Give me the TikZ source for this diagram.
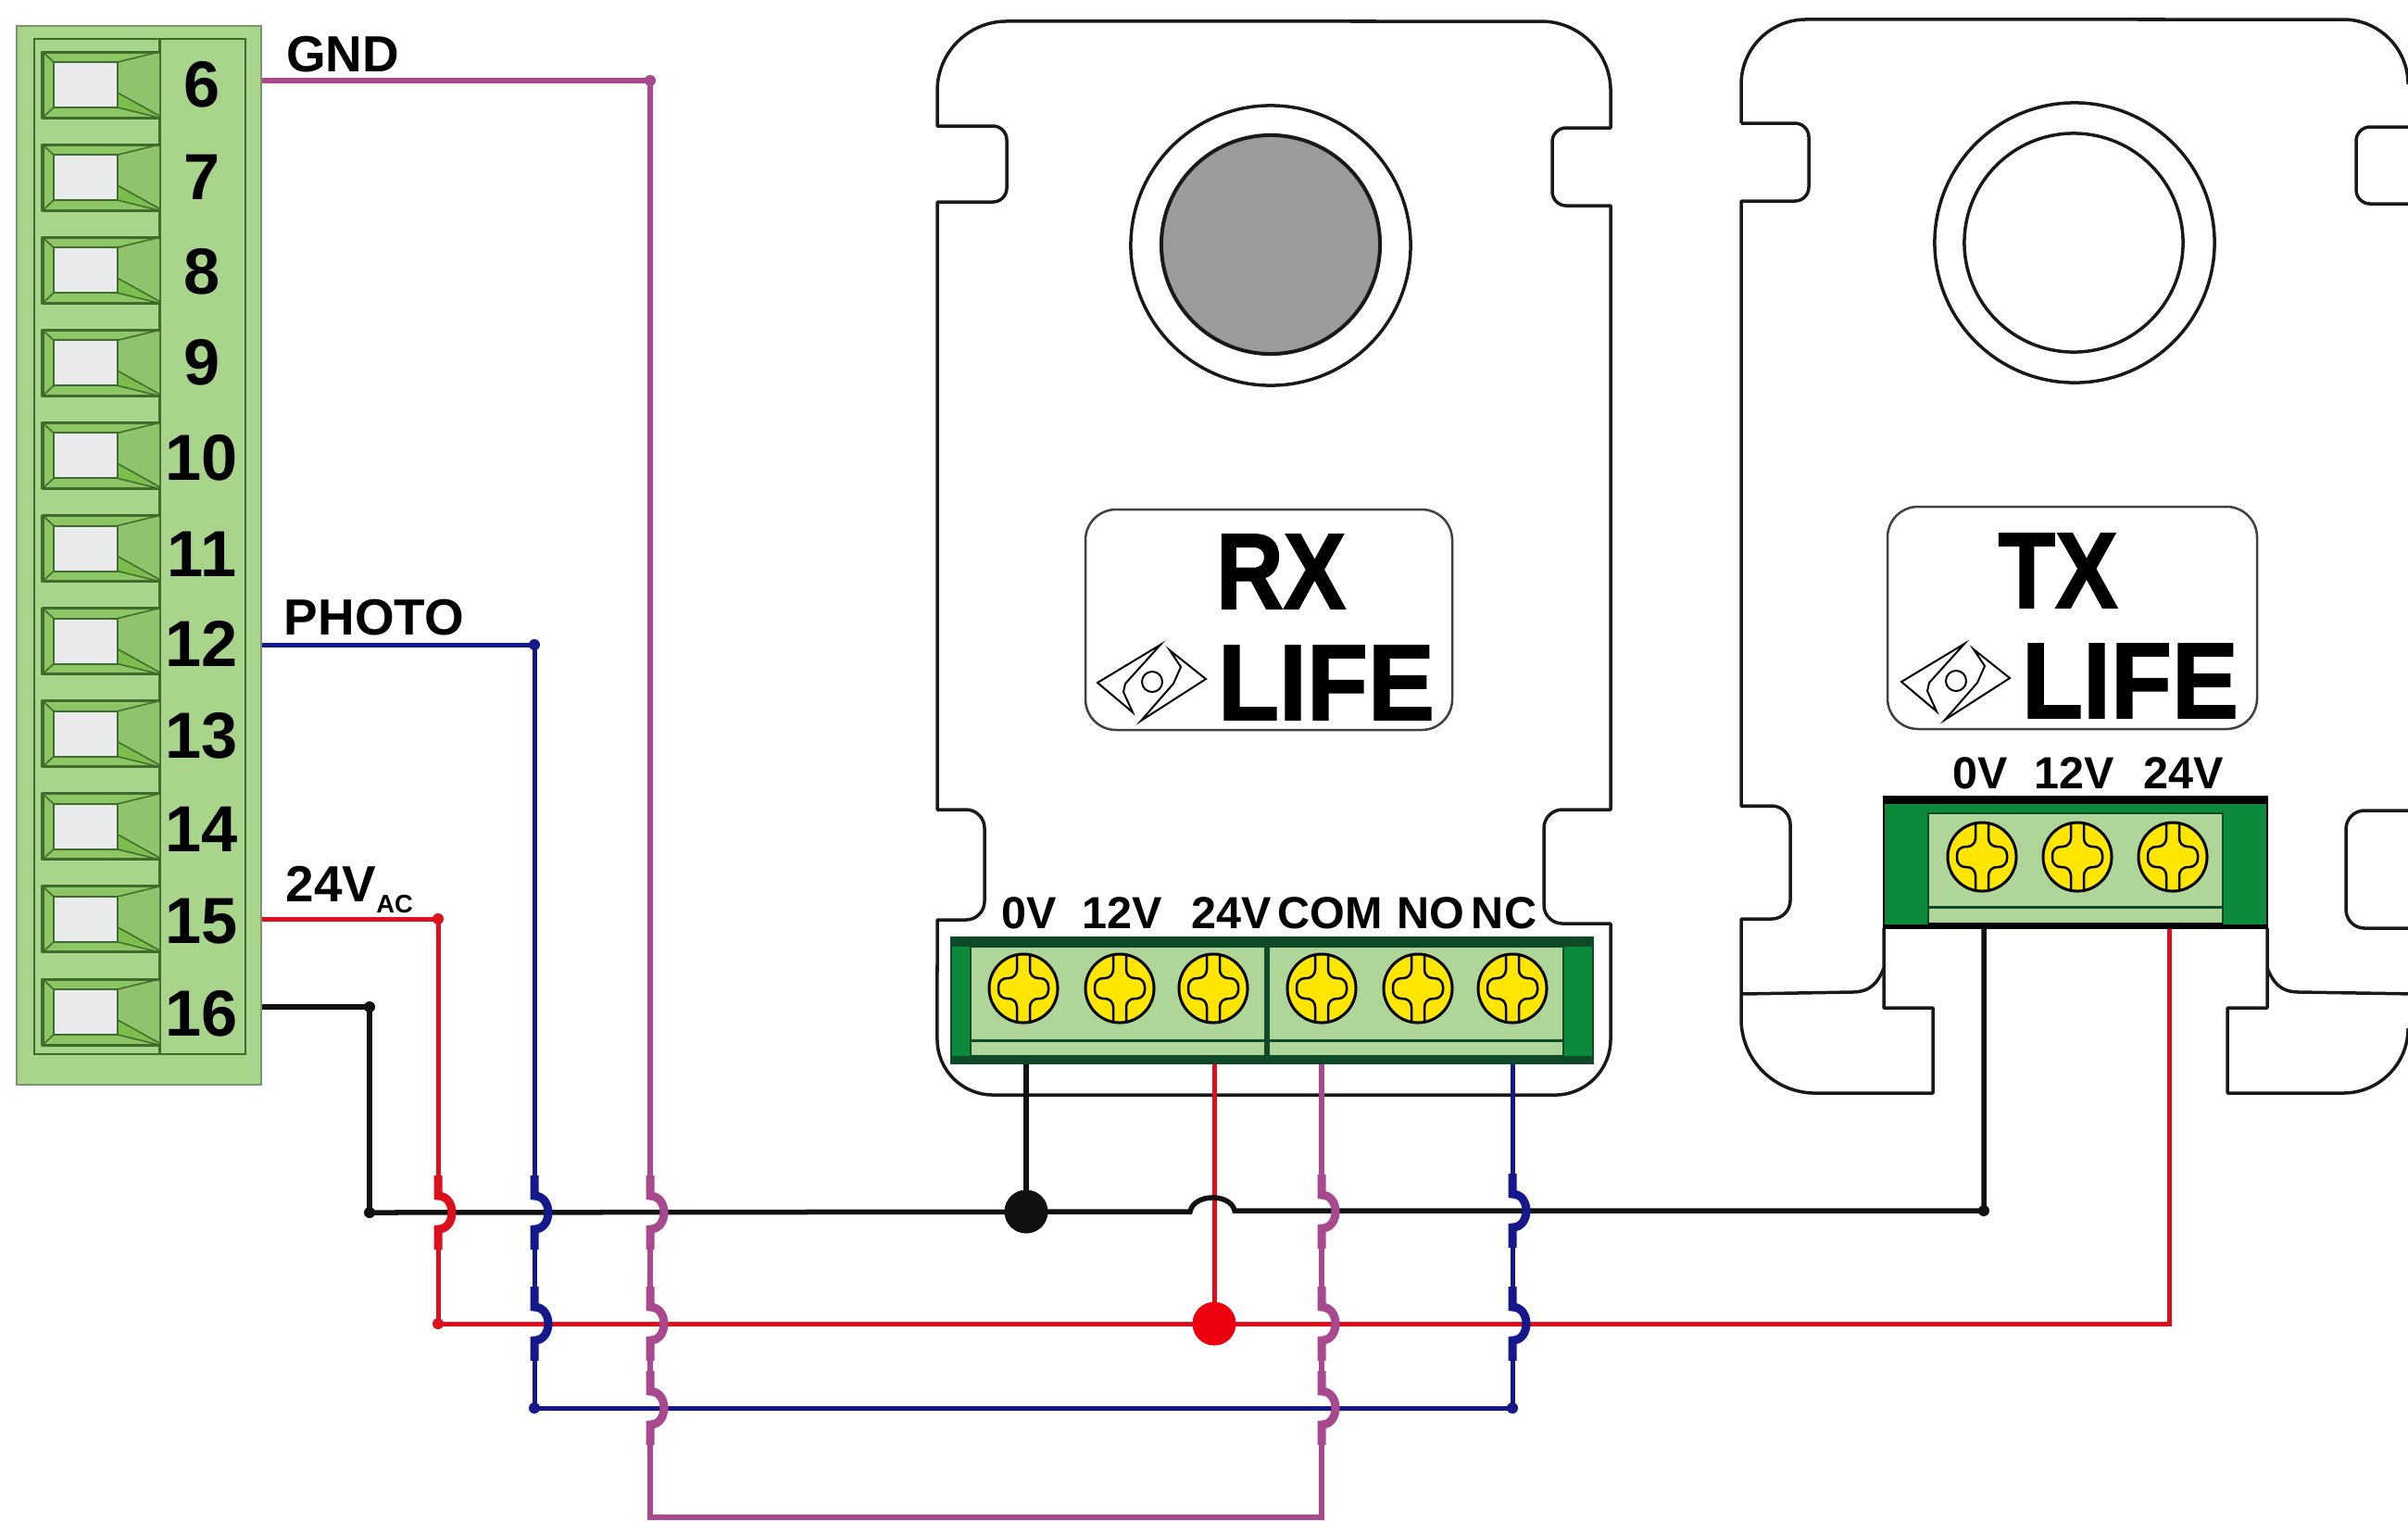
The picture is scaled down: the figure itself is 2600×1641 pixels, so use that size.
\documentclass[tikz,border=0pt]{standalone}
\usepackage{fontspec}
\setmainfont{Liberation Sans}
\newfontfamily\markfont{Liberation Sans}[Scale=1,BoldFont={Liberation Sans Bold},BoldFeatures={FakeBold=1.6}]
\usepackage{xcolor}
\definecolor{blockgreen}{HTML}{A9D48C}
\definecolor{bevelgreen}{HTML}{8CC564}
\definecolor{notchgreen}{HTML}{90C46C}
\definecolor{wedgegreen}{HTML}{7CBE4E}
\definecolor{linegreen}{HTML}{3F6B2C}
\definecolor{slotwhite}{HTML}{E9EAEC}
\definecolor{termgreen}{HTML}{0C8A3B}
\definecolor{termdark}{HTML}{0F4A28}
\definecolor{termpanel}{HTML}{B0D599}
\definecolor{screwyellow}{HTML}{FFE600}
\definecolor{lensgray}{HTML}{9B9B9D}
\definecolor{wirered}{HTML}{DC0F1C}
\definecolor{dotred}{HTML}{EC0010}
\definecolor{wireblue}{HTML}{15188A}
\definecolor{wirepurple}{HTML}{A8488F}
\definecolor{wireblack}{HTML}{111111}
\tikzset{
  housing/.style={draw=black!90, line width=.35mm, line join=round},
  redwire/.style={wirered, line width=.5mm},
  bluewire/.style={wireblue, line width=.5mm},
  purplewire/.style={wirepurple, line width=.55mm},
  blackwire/.style={wireblack, line width=.55mm},
  pinlabel/.style={inner sep=0pt, font=\fontsize{20}{20}\selectfont\bfseries},
  wirelabel/.style={inner sep=0pt, font=\fontsize{15.6}{16}\selectfont\bfseries},
  termlabel/.style={inner sep=0pt, font=\fontsize{13.8}{14}\selectfont\bfseries},
  bigmark/.style={inner sep=0pt, font=\fontsize{33}{33}\selectfont\markfont\bfseries},
  logobox/.style={draw=black!75, line width=.25mm, rounded corners=.33cm},
  bigdot/.style={circle, inner sep=0pt, minimum size=4.7mm},
  tinydot/.style={circle, inner sep=0pt, minimum size=1.2mm}
}
% screw of a terminal strip
\newcommand{\screwhead}[2]{
  \begin{scope}[shift={(#1,#2)}]
    \draw[black, line width=.3mm, fill=screwyellow] (0,0) circle (.37cm);
    \draw[black, line width=.25mm, rounded corners=.09cm] (-7,-35) -- (-7,-11) -- (-27,-11) -- (-27,11) -- (-7,11) -- (-7,35);
    \draw[black, line width=.25mm, rounded corners=.09cm] (7,-35) -- (7,-11) -- (27,-11) -- (27,11) -- (7,11) -- (7,35);
  \end{scope}
}
% small sign next to LIFE
\newcommand{\lifesign}[2]{
  \begin{scope}[shift={(#1,#2)}]
    \draw[black, line width=.2mm, line join=miter] (-59,1) -- (9,-40) -- (-29,2) -- (-31,11) -- (-21,33) -- cycle;
    \draw[black, line width=.2mm, line join=miter] (19,-34) -- (58,-3) -- (-12,42) -- (23,2) -- (31,-16) -- cycle;
    \draw[black, line width=.2mm] (0,0) circle (.11cm);
  \end{scope}
}
\begin{document}
\begin{tikzpicture}[x=0.01cm, y=-0.01cm]
  \useasboundingbox (0,0) rectangle (2600,1641);
  \clip (0,0) rectangle (2600,1641);
  % terminal block
  \draw[fill=blockgreen, draw=linegreen!70, line width=.25mm] (18,28) rectangle (282,1171);
  \draw[draw=linegreen, line width=.25mm] (37,42) rectangle (265,1138);
  \draw[draw=linegreen, line width=.3mm] (172,42) -- (172,1138);
  \foreach \i in {0,...,10} {
    \begin{scope}[shift={(0,100.1*\i)}]
      \fill[bevelgreen] (46,56) rectangle (172,127);
      \fill[notchgreen] (127,67) -- (172,58) -- (172,125) -- (127,100) -- cycle;
      \fill[wedgegreen] (127,100) -- (172,125) -- (127,116) -- cycle;
      \fill[slotwhite] (58,67) rectangle (127,116);
      \draw[linegreen, line width=.3mm, line join=round] (172,56) -- (46,56) -- (46,127) -- (172,127);
      \draw[linegreen, line width=.2mm] (58,67) rectangle (127,116);
      \draw[linegreen, line width=.15mm] (46,56) -- (58,67) (46,127) -- (58,116) (172,56) -- (127,67) (172,127) -- (127,116) (127,100) -- (172,125);
    \end{scope}
  }
  \foreach \n/\y in {6/91,7/191,8/293,9/391,10/494,11/598,12/695,13/794,14/895,15/995,16/1094} {
    \node[pinlabel] (pin\n) at (218,\y) {\n};
  }
  \node[wirelabel] (gndlabel) at (370,59) {GND};
  \node[wirelabel] (photolabel) at (404,667) {PHOTO};
  \node[wirelabel, anchor=base west] (aclabel) at (308,973) {24V{\fontsize{7.8}{8}\selectfont\raisebox{-1.2mm}{AC}}};
  % RX housing
  \draw[housing] (1012,136) -- (1012,98) arc[start angle=180, end angle=90, radius=.75cm]
    -- (1664,23) arc[start angle=90, end angle=0, radius=.75cm]
    -- (1739,138) -- (1691,138) arc[start angle=90, end angle=180, radius=.15cm]
    -- (1676,207) arc[start angle=180, end angle=270, radius=.15cm]
    -- (1739,222) -- (1739,874) -- (1687,874) arc[start angle=90, end angle=180, radius=.2cm]
    -- (1667,977) arc[start angle=180, end angle=270, radius=.2cm]
    -- (1739,997) -- (1739,1122) arc[start angle=0, end angle=-90, radius=.6cm]
    -- (1072,1182) arc[start angle=-90, end angle=-180, radius=.6cm]
    -- (1012,993) -- (1043,993) arc[start angle=-90, end angle=0, radius=.2cm]
    -- (1063,894) arc[start angle=0, end angle=90, radius=.2cm]
    -- (1012,874) -- (1012,218) -- (1072,218) arc[start angle=-90, end angle=0, radius=.15cm]
    -- (1087,151) arc[start angle=0, end angle=90, radius=.15cm] -- cycle;
  \draw[housing] (1372,265) circle (1.51cm);
  \draw[housing, fill=lensgray, line width=.4mm] (1372,264) circle (1.18cm);
  \draw[logobox] (1172,550) rectangle (1568,788);
  \node[bigmark] (rxmark) at (1383,617) {\scalebox{.87}[1]{RX}};
  \node[bigmark] (rxlife) at (1432,737) {\scalebox{.93}[1]{LIFE}};
  \lifesign{1244}{736}
  % TX housing
  \draw[housing] (1880,133) -- (1880,91) arc[start angle=180, end angle=90, radius=.7cm]
    -- (2530,21) arc[start angle=90, end angle=0, radius=.7cm];
  \draw[housing] (1880,133) -- (1938,133) arc[start angle=90, end angle=0, radius=.15cm]
    -- (1953,202) arc[start angle=0, end angle=-90, radius=.15cm]
    -- (1880,217) -- (1880,870) -- (1913,870) arc[start angle=90, end angle=0, radius=.2cm]
    -- (1933,972) arc[start angle=0, end angle=-90, radius=.2cm]
    -- (1880,992) -- (1880,1100) arc[start angle=180, end angle=270, radius=.8cm]
    -- (2087,1180) -- (2087,1088) -- (2034,1088) -- (2034,1002);
  \draw[housing] (1880,1073) -- (2000,1071) .. controls (2020,1071) and (2028,1060) .. (2034,1045);
  \draw[housing] (2600,137) -- (2559,137) arc[start angle=90, end angle=180, radius=.15cm]
    -- (2544,205) arc[start angle=180, end angle=270, radius=.15cm] -- (2600,220);
  \draw[housing] (2610,875) -- (2553,875) arc[start angle=90, end angle=180, radius=.2cm]
    -- (2533,982) arc[start angle=180, end angle=270, radius=.2cm] -- (2610,1002);
  \draw[housing] (2448,1002) -- (2448,1088) -- (2405,1088) -- (2405,1180) -- (2530,1180)
    arc[start angle=-90, end angle=0, radius=.7cm];
  \draw[housing] (2448,1045) .. controls (2454,1060) and (2462,1071) .. (2482,1071) -- (2610,1073);
  \draw[housing] (2240,262) circle (1.51cm);
  \draw[housing] (2239,262) circle (1.18cm);
  \draw[logobox] (2038,547) rectangle (2437,787);
  \node[bigmark] (txmark) at (2222,616) {\scalebox{.87}[1]{TX}};
  \node[bigmark] (txlife) at (2300,735) {\scalebox{.93}[1]{LIFE}};
  \lifesign{2112}{735}
  % wire ends and corners
  \coordinate (gndpin) at (283,87);
  \coordinate (gndcorner) at (702,87);
  \coordinate (gndlow) at (702,1638);
  \coordinate (comlow) at (1427,1638);
  \coordinate (compin) at (1427,1148);
  \coordinate (photopin) at (283,696);
  \coordinate (photocorner) at (577,696);
  \coordinate (photolow) at (577,1520);
  \coordinate (ncpin) at (1633,1148);
  \coordinate (nclow) at (1633,1520);
  \coordinate (acpin) at (283,992);
  \coordinate (accorner) at (473,992);
  \coordinate (aclow) at (473,1429);
  \coordinate (rxacpin) at (1311,1148);
  \coordinate (rxacjoin) at (1311,1429);
  \coordinate (txacpin) at (2342,1002);
  \coordinate (txaclow) at (2342,1429);
  \coordinate (zeropin) at (283,1087);
  \coordinate (zerocorner) at (399,1087);
  \coordinate (zerolow) at (399,1309);
  \coordinate (rxzeropin) at (1108,1148);
  \coordinate (rxzerojoin) at (1108,1308);
  \coordinate (bridgein) at (1285,1308);
  \coordinate (bridgeout) at (1333,1307);
  \coordinate (txzeropin) at (2142,1002);
  \coordinate (txzerolow) at (2142,1307);
  % draw wires that run down
  \draw[purplewire] (gndpin) -- (gndcorner) -- (gndlow) -- (comlow) -- (compin);
  \draw[bluewire] (photopin) -- (photocorner) -- (photolow);
  \draw[bluewire] (ncpin) -- (nclow);
  \draw[redwire] (acpin) -- (accorner) -- (aclow);
  \draw[blackwire] (zeropin) -- (zerocorner) -- (zerolow);
  \def\hoplist{redwire/473/1309,bluewire/577/1309,bluewire/577/1429,purplewire/702/1309,purplewire/702/1429,purplewire/702/1520,purplewire/1427/1308,purplewire/1427/1429,purplewire/1427/1520,bluewire/1633/1307,bluewire/1633/1429}
  \foreach \wirestyle/\xx/\yy in \hoplist {
    \draw[white, line width=.9mm] (\xx,\yy-18) -- (\xx,\yy+18);
  }
  % draw wires that run across
  \draw[redwire] (rxacpin) -- (rxacjoin);
  \draw[redwire] (aclow) -- (rxacjoin) -- (txaclow) -- (txacpin);
  \draw[bluewire] (photolow) -- (nclow);
  \draw[blackwire] (zerolow) -- (bridgein) .. controls (1289,1288) and (1329,1288) .. (bridgeout) -- (txzerolow) -- (txzeropin);
  \draw[blackwire] (rxzeropin) -- (rxzerojoin);
  % hops over the wires
  \foreach \wirestyle/\xx/\yy in \hoplist {
    \draw[\wirestyle, line width=.9mm] (\xx,\yy-40) -- (\xx,\yy-18) .. controls (\xx+20,\yy-18) and (\xx+20,\yy+18) .. (\xx,\yy+18) -- (\xx,\yy+40);
  }
  % joints
  \node[bigdot, fill=wireblack] (rxzerodot) at (rxzerojoin) {};
  \node[bigdot, fill=dotred] (rxacdot) at (rxacjoin) {};
  \node[tinydot, fill=wirepurple] (gnddot) at (gndcorner) {};
  \node[tinydot, fill=wireblue] (photodot) at (photocorner) {};
  \node[tinydot, fill=wirered] (acdot) at (accorner) {};
  \node[tinydot, fill=wireblack] (zerodot) at (zerocorner) {};
  \node[tinydot, fill=wireblack] (zerolowdot) at (zerolow) {};
  \node[tinydot, fill=wirered] (aclowdot) at (aclow) {};
  \node[tinydot, fill=wireblue] (photolowdot) at (photolow) {};
  \node[tinydot, fill=wireblue] (nclowdot) at (nclow) {};
  \node[tinydot, fill=wireblack] (txzerodot) at (txzerolow) {};
  % RX terminals
  \fill[termgreen] (1027,1012) rectangle (1720,1148);
  \fill[termdark] (1027,1012) rectangle (1720,1022);
  \fill[termdark] (1027,1140) rectangle (1720,1148);
  \draw[termdark, line width=.2mm] (1027,1012) rectangle (1720,1148);
  \draw[termdark, fill=termpanel, line width=.15mm] (1048,1022) rectangle (1688,1140);
  \draw[termdark, line width=.3mm] (1048,1123) -- (1688,1123);
  \draw[termdark, line width=.55mm] (1368,1022) -- (1368,1140);
  \foreach \x in {1105,1209,1310,1427,1531,1633} {
    \screwhead{\x}{1067}
  }
  \node[termlabel] (rxzero) at (1111,986) {0V};
  \node[termlabel] (rxtwelve) at (1212,986) {12V};
  \node[termlabel] (rxac) at (1330,986) {24V};
  \node[termlabel] (rxcom) at (1436,986) {COM};
  \node[termlabel] (rxno) at (1545,986) {NO};
  \node[termlabel] (rxnc) at (1624,986) {NC};
  % TX terminals
  \fill[termgreen] (2034,860) rectangle (2448,1002);
  \fill[black] (2034,860) rectangle (2448,868);
  \fill[black] (2034,998) rectangle (2448,1002);
  \draw[black, line width=.2mm] (2034,860) rectangle (2448,1002);
  \draw[termdark, fill=termpanel, line width=.15mm] (2082,878) rectangle (2400,998);
  \draw[termdark, line width=.3mm] (2082,979) -- (2400,979);
  \draw[black, line width=.35mm] (2082,998) -- (2400,998);
  \foreach \x in {2140,2243,2346} {
    \screwhead{\x}{925}
  }
  \node[termlabel] (txzero) at (2138,835) {0V};
  \node[termlabel] (txtwelve) at (2240,835) {12V};
  \node[termlabel] (txac) at (2358,835) {24V};
\end{tikzpicture}
\end{document}
